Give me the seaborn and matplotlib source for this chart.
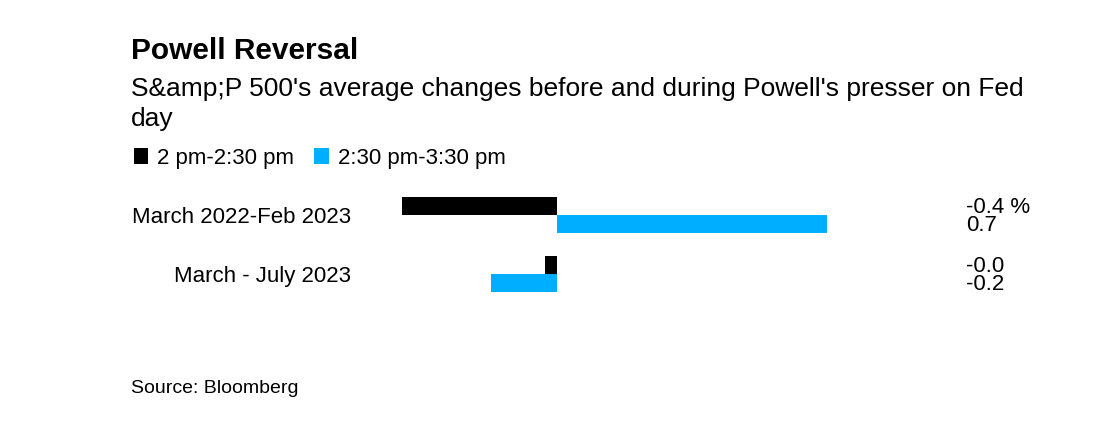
import pandas as pd
import seaborn as sns
import matplotlib.pyplot as plt
from matplotlib.patches import Patch
from matplotlib.transforms import blended_transform_factory

periods = ["March 2022-Feb 2023", "March - July 2023"]
windows = ["2 pm-2:30 pm", "2:30 pm-3:30 pm"]
early = [-0.40, -0.03]
late = [0.70, -0.17]
colors = ["#000000", "#00aeff"]

df = pd.DataFrame({
    "period": periods * 2,
    "window": [windows[0]] * 2 + [windows[1]] * 2,
    "value": early + late,
})

sns.set_style("white")
plt.rcParams["font.family"] = ["Liberation Sans", "DejaVu Sans"]
plt.rcParams["text.color"] = "black"
plt.rcParams["ytick.color"] = "black"

W, H = 1116, 428
fig = plt.figure(figsize=(W / 100, H / 100), dpi=100)
ax = fig.add_axes([380 / W, 1 - 303.5 / H, (1050 - 380) / W, 118 / H])

sns.barplot(df, y="period", x="value", hue="window", orient="h",
            palette=colors, width=0.6, saturation=1, legend=False,
            linewidth=0, ax=ax)

ax.set_xlim((380 - 556.7) / 386, (1050 - 556.7) / 386)
ax.set_ylim(1.5, -0.5)
ax.set_xlabel("")
ax.set_ylabel("")
ax.set_xticks([])
ax.tick_params(axis="y", length=0, pad=21, labelsize=16, labelcolor="black")
sns.despine(ax=ax, left=True, bottom=True)

# value labels at the right
tr = blended_transform_factory(fig.transFigure, ax.transData)
for i, p in enumerate(ax.patches):
    v = p.get_width()
    txt = f"{v:.1f}" + (" %" if i == 0 else "")
    ax.text(966 / W, p.get_y() + p.get_height() / 2 + 0.02, txt, transform=tr,
            ha="left", va="center", fontsize=16, color="black")

fig.text(131 / W, 1 - 59 / H, "Powell Reversal", fontsize=21.5,
         weight="bold", va="baseline", color="black")
fig.text(131 / W, 1 - 96 / H,
         "S&amp;P 500's average changes before and during Powell's presser on Fed",
         fontsize=19, va="baseline")
fig.text(131 / W, 1 - 126 / H, "day", fontsize=19, va="baseline")

handles = [Patch(facecolor=c, edgecolor="none") for c in colors]
fig.legend(handles, windows, loc="upper left", bbox_to_anchor=(134 / W, 1 - 148 / H),
           ncol=2, frameon=False, fontsize=16, handlelength=0.65, handleheight=0.7,
           handletextpad=0.4, columnspacing=0.9, borderpad=0, borderaxespad=0)

fig.text(131 / W, 1 - 393 / H, "Source: Bloomberg", fontsize=14, va="baseline")

fig.savefig("out.png", dpi=100, facecolor="white")
